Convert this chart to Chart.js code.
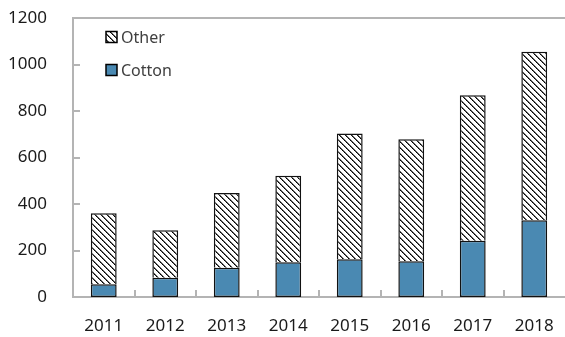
<!DOCTYPE html>
<html>
<head>
<meta charset="utf-8">
<script src="https://cdn.jsdelivr.net/npm/chart.js@4.4.1/dist/chart.umd.min.js"></script>
<style>
  html, body { margin: 0; padding: 0; background: #fff; }
  #wrap { width: 565px; height: 337px; position: relative; }
</style>
</head>
<body>
<div id="wrap"><canvas id="chart"></canvas></div>
<script>
const years = ['2011', '2012', '2013', '2014', '2015', '2016', '2017', '2018'];
const cotton = [55, 83, 126, 149, 162, 154, 242, 330];
const other = [305, 204, 321, 372, 541, 525, 626, 725];
const yTicks = [0, 200, 400, 600, 800, 1000, 1200];

const AXIS_GRAY = '#b4b4b4';
const TEXT = '#1a1a1a';
const BLUE = '#4a89b2';

/**
 * Motivo de rayas diagonales para la serie "Other".
 */
function hatchPattern() {
  const size = 6;
  const c = document.createElement('canvas');
  c.width = size;
  c.height = size;
  const g = c.getContext('2d');
  g.fillStyle = '#fff';
  g.fillRect(0, 0, size, size);
  for (let i = 0; i < size; i++) {
    g.fillStyle = i % 2 === 0 ? '#000' : '#222';
    g.fillRect(i, i, 1, 1);
    g.fillStyle = 'rgba(0,0,0,0.6)';
    g.fillRect((i + 1) % size, i, 1, 1);
  }
  return g.createPattern(c, 'repeat');
}

const hatch = hatchPattern();

/**
 * Marcas de eje hacia dentro, línea superior y leyenda dentro del área.
 */
const decor = {
  id: 'decor',
  afterDraw(chart) {
    const { ctx, chartArea, scales } = chart;
    const x = scales.x;
    const y = scales.y;
    ctx.save();
    ctx.fillStyle = AXIS_GRAY;
    // marcas del eje Y
    yTicks.forEach(v => {
      const py = Math.round(y.getPixelForValue(v));
      ctx.fillRect(chartArea.left, py - 1, 7, 2);
    });
    // línea superior
    const top = Math.round(y.getPixelForValue(1200));
    ctx.fillRect(chartArea.left - 1, top - 1, chart.width - chartArea.left + 1, 2);
    // marcas del eje X entre categorías
    const step = x.width / years.length;
    for (let i = 1; i < years.length; i++) {
      const px = Math.round(x.left + step * i);
      ctx.fillRect(px - 1, chartArea.bottom - 7, 2, 7);
    }
    // leyenda
    const items = [
      { label: 'Other', fill: hatch, y: 37 },
      { label: 'Cotton', fill: BLUE, y: 70 },
    ];
    ctx.font = '16px "Noto Sans", sans-serif';
    ctx.textBaseline = 'middle';
    items.forEach(it => {
      ctx.fillStyle = it.fill;
      ctx.fillRect(106, it.y - 5.5, 11, 11);
      ctx.strokeStyle = '#000';
      ctx.lineWidth = 1.5;
      ctx.strokeRect(106, it.y - 5.5, 11, 11);
      ctx.fillStyle = '#404040';
      ctx.fillText(it.label, 121, it.y + 1);
    });
    ctx.restore();
  }
};

new Chart(document.getElementById('chart'), {
  type: 'bar',
  data: {
    labels: years,
    datasets: [
      {
        label: 'Cotton',
        data: cotton,
        backgroundColor: BLUE,
        borderColor: '#111',
        borderWidth: 1.5,
        borderSkipped: false,
      },
      {
        label: 'Other',
        data: other,
        backgroundColor: hatch,
        borderColor: '#111',
        borderWidth: 1.5,
        borderSkipped: 'bottom',
      },
    ],
  },
  options: {
    responsive: true,
    maintainAspectRatio: false,
    animation: false,
    layout: { padding: { top: 18, left: 0, right: 0, bottom: 0 } },
    datasets: { bar: { categoryPercentage: 1, barPercentage: 0.42 } },
    plugins: { legend: { display: false }, tooltip: { enabled: false } },
    scales: {
      x: {
        stacked: true,
        grid: { display: false, drawTicks: false },
        border: { display: true, color: AXIS_GRAY, width: 2 },
        ticks: { color: TEXT, font: { family: 'Noto Sans', size: 17 }, padding: 19 },
        afterFit(scale) {
          scale.height = 40;
          scale.paddingLeft = 0;
          scale.paddingRight = 0;
        },
      },
      y: {
        stacked: true,
        min: 0,
        max: 1200,
        afterBuildTicks(scale) { scale.ticks = yTicks.map(v => ({ value: v })); },
        grid: { display: false, drawTicks: false },
        border: { display: true, color: AXIS_GRAY, width: 2 },
        ticks: {
          color: TEXT,
          font: { family: 'Noto Sans', size: 17 },
          padding: 26,
          callback: v => String(v),
        },
        afterFit(scale) {
          scale.width = 73;
          scale.paddingTop = 0;
          scale.paddingBottom = 0;
        },
      },
    },
  },
  plugins: [decor],
});
</script>
</body>
</html>
